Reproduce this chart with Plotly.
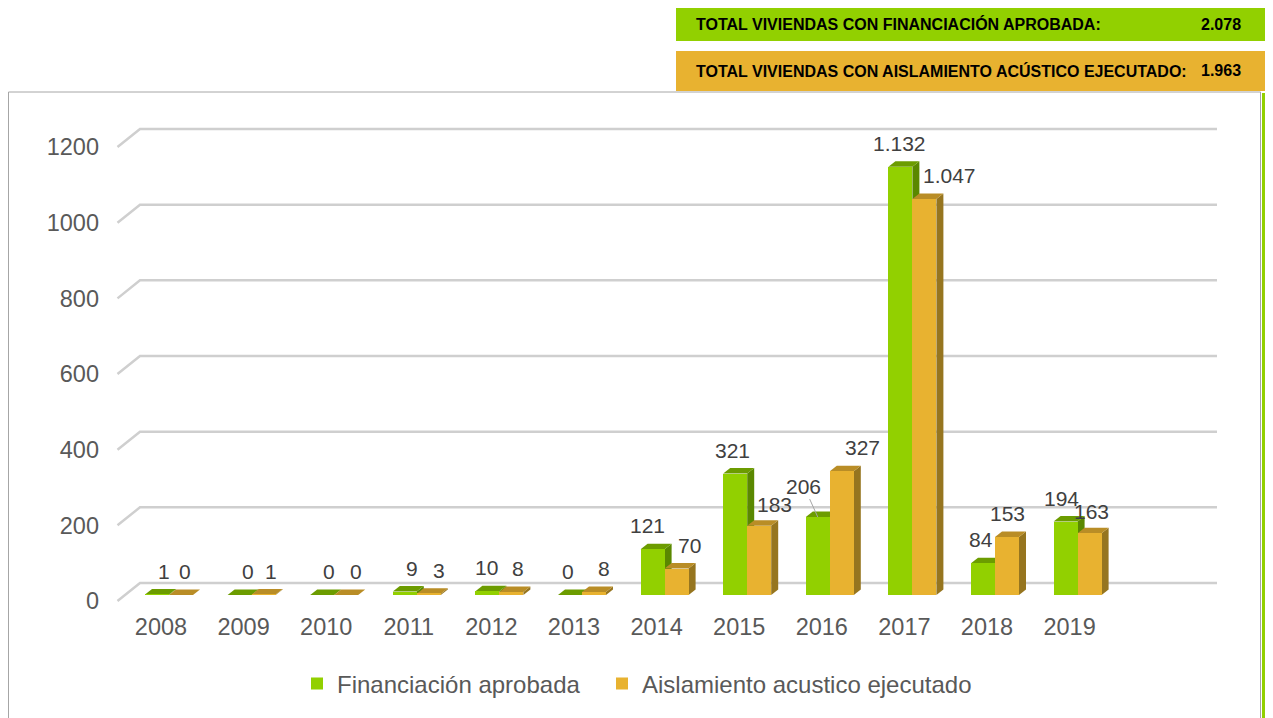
import plotly.graph_objects as go

# ---------------- data ----------------
years = ['2008', '2009', '2010', '2011', '2012', '2013',
         '2014', '2015', '2016', '2017', '2018', '2019']
financiacion = [1, 0, 0, 9, 10, 0, 121, 321, 206, 1132, 84, 194]
aislamiento = [0, 1, 0, 3, 8, 8, 70, 183, 327, 1047, 153, 163]
y_ticks = [0, 200, 400, 600, 800, 1000, 1200]
series_names = ['Financiación aprobada', 'Aislamiento acustico ejecutado']
header_labels = ['TOTAL VIVIENDAS CON FINANCIACIÓN APROBADA:',
                 'TOTAL VIVIENDAS CON AISLAMIENTO ACÚSTICO EJECUTADO:']

# ---------------- styles ----------------
GREEN, GREEN_TOP, GREEN_SIDE = '#92D000', '#6C9C00', '#5A8800'
ORANGE, ORANGE_TOP, ORANGE_SIDE = '#E8B230', '#B98D26', '#96751F'
TXT = '#404040'
AX = '#595959'
FONT = 'Liberation Sans, Arial, sans-serif'

# label pixel tweaks (as placed in the reference)
green_lbl_dx = [7, 8, 7, 7, -1, -2, -5, -3, 0, -1, -2, -4]
orange_lbl_dx = [4, 7, 10, 10, 7, 10, 13, 15, 21, 25, 0, 2]
green_lbl_dy = [23.5] * 12
orange_lbl_dy = [23.5] * 7 + [21, 23.5, 23.5, 23.5, 22]

# ---------------- geometry (page pixels; page body has 8px margin) ----------------
OFF = 8
W, H = 1273 - OFF, 718 - OFF
L, R, T, B = 100, 1230, 110, 605          # plot area in page px
PX_X = 82.6      # px per category
PX_Y = 0.3783    # px per value unit
X0_PAGE = 161    # page x of first category
Y0_PAGE = 595    # page y of bar baseline
RIGHT_EDGE = 1265  # last visible page column


def ux(px):
    return px / PX_X


def uy(px):
    return px / PX_Y


x_lo = -ux(X0_PAGE - L)
x_hi = x_lo + ux(R - L)
y_lo = -uy(B - Y0_PAGE)
y_hi = y_lo + uy(B - T)

group_shift = ux(8)
bar_w = ux(24)
dx, dy = ux(7), uy(5.5)

n = len(years)
idx = list(range(n))
green_x = [i + group_shift - bar_w / 2 for i in idx]
orange_x = [i + group_shift + bar_w / 2 for i in idx]


def fmt(v):
    return f'{v:,}'.replace(',', '.')


def px_x(px):
    return (px - L) / (R - L)


def px_y(py):
    return (B - py) / (B - T)


shapes = []
# 3D-style gridlines (front tick slant + back wall line)
gx_front, gx_back, gx_end = ux(117.5 - X0_PAGE), ux(140 - X0_PAGE), ux(1217 - X0_PAGE)
for v in y_ticks:
    shapes.append(dict(
        type='path', xref='x', yref='y', layer='below',
        path=f'M{gx_front},{v - uy(6)} L{gx_back},{v + uy(12)} L{gx_end},{v + uy(12)}',
        line=dict(color='#cfcfcf', width=2.5)))


def faces(cx, val, top_col, side_col):
    l, r = cx - bar_w / 2, cx + bar_w / 2
    top = f'M{l},{val} L{r},{val} L{r + dx},{val + dy} L{l + dx},{val + dy} Z'
    side = f'M{r},0 L{r + dx},{dy} L{r + dx},{val + dy} L{r},{val} Z'
    return [
        dict(type='path', xref='x', yref='y', layer='below', path=side,
             fillcolor=side_col, line=dict(width=0)),
        dict(type='path', xref='x', yref='y', layer='below', path=top,
             fillcolor=top_col, line=dict(width=0)),
    ]


for i in idx:
    shapes += faces(green_x[i], financiacion[i], GREEN_TOP, GREEN_SIDE)
    shapes += faces(orange_x[i], aislamiento[i], ORANGE_TOP, ORANGE_SIDE)

# chart frame
shapes.append(dict(type='rect', xref='paper', yref='paper', layer='above',
                   x0=px_x(8.5), x1=px_x(RIGHT_EDGE - 4.5), y0=px_y(760), y1=px_y(92),
                   line=dict(color='#a6a6a6', width=1), fillcolor='rgba(0,0,0,0)'))
shapes.append(dict(type='line', xref='paper', yref='paper', layer='above',
                   x0=px_x(RIGHT_EDGE - 1.5), x1=px_x(RIGHT_EDGE - 1.5),
                   y0=px_y(760), y1=px_y(93),
                   line=dict(color=GREEN, width=3)))
# header boxes
shapes.append(dict(type='rect', xref='paper', yref='paper', layer='above',
                   x0=px_x(676), x1=px_x(1268), y0=px_y(41), y1=px_y(6),
                   line=dict(width=0), fillcolor=GREEN))
shapes.append(dict(type='rect', xref='paper', yref='paper', layer='above',
                   x0=px_x(676), x1=px_x(1268), y0=px_y(91), y1=px_y(51),
                   line=dict(width=0), fillcolor='#E8B230'))

annotations = []
totals = [sum(financiacion), sum(aislamiento)]
for lbl, tot, yc in zip(header_labels, totals, [24, 71]):
    annotations.append(dict(xref='paper', yref='paper', x=px_x(694), y=px_y(yc),
                            xanchor='left', yanchor='middle', showarrow=False,
                            text=f'<b>{lbl}</b>',
                            font=dict(family=FONT, size=16, color='#000000')))
    annotations.append(dict(xref='paper', yref='paper', x=px_x(1243), y=px_y(yc),
                            xanchor='right', yanchor='middle', showarrow=False,
                            text=f'<b>{fmt(tot)}</b>',
                            font=dict(family=FONT, size=16, color='#000000')))

# data labels
for i in idx:
    for xs, vals, dxs, dys, is_green in (
            (green_x, financiacion, green_lbl_dx, green_lbl_dy, True),
            (orange_x, aislamiento, orange_lbl_dx, orange_lbl_dy, False)):
        v = vals[i]
        if is_green and years[i] == '2016':
            annotations.append(dict(x=xs[i], y=v, xref='x', yref='y', text=fmt(v),
                                    showarrow=True, arrowhead=0, arrowwidth=1,
                                    arrowcolor='#a6a6a6', standoff=0,
                                    ax=-14, ay=-31,
                                    font=dict(family=FONT, size=21, color=TXT)))
        else:
            annotations.append(dict(x=xs[i], y=v, xref='x', yref='y', text=fmt(v),
                                    showarrow=False, xanchor='center', yanchor='middle',
                                    xshift=dxs[i], yshift=dys[i],
                                    font=dict(family=FONT, size=21, color=TXT)))

fig = go.Figure()
fig.add_trace(go.Bar(x=green_x, y=financiacion, width=bar_w, name=series_names[0],
                     marker=dict(color=GREEN, line=dict(width=0)), legend='legend'))
fig.add_trace(go.Bar(x=orange_x, y=aislamiento, width=bar_w, name=series_names[1],
                     marker=dict(color=ORANGE, line=dict(width=0)), legend='legend2'))

legend_common = dict(orientation='h', yanchor='middle', xanchor='left',
                     font=dict(family=FONT, size=24, color=AX), itemwidth=30,
                     bgcolor='rgba(0,0,0,0)')

fig.update_layout(
    width=W, height=H,
    margin=dict(l=L - OFF, r=W - (R - OFF), t=T - OFF, b=H - (B - OFF), autoexpand=False),
    paper_bgcolor='white', plot_bgcolor='white',
    barmode='overlay', bargap=0,
    showlegend=True,
    legend=dict(x=px_x(297), y=px_y(684), **legend_common),
    legend2=dict(x=px_x(602), y=px_y(684), **legend_common),
    xaxis=dict(range=[x_lo, x_hi], tickvals=idx, ticktext=years, showgrid=False,
               zeroline=False, showline=False, ticks='', ticklabelstandoff=5,
               tickfont=dict(family=FONT, size=23.5, color=AX), fixedrange=True),
    yaxis=dict(range=[y_lo, y_hi], tickvals=y_ticks, showgrid=False, zeroline=False,
               showline=False, ticks='', ticklabelshift=6,
               tickfont=dict(family=FONT, size=23.5, color=AX), fixedrange=True),
    shapes=shapes, annotations=annotations,
)

fig.write_html('out.html', default_width=f'{W}px', default_height=f'{H}px')
